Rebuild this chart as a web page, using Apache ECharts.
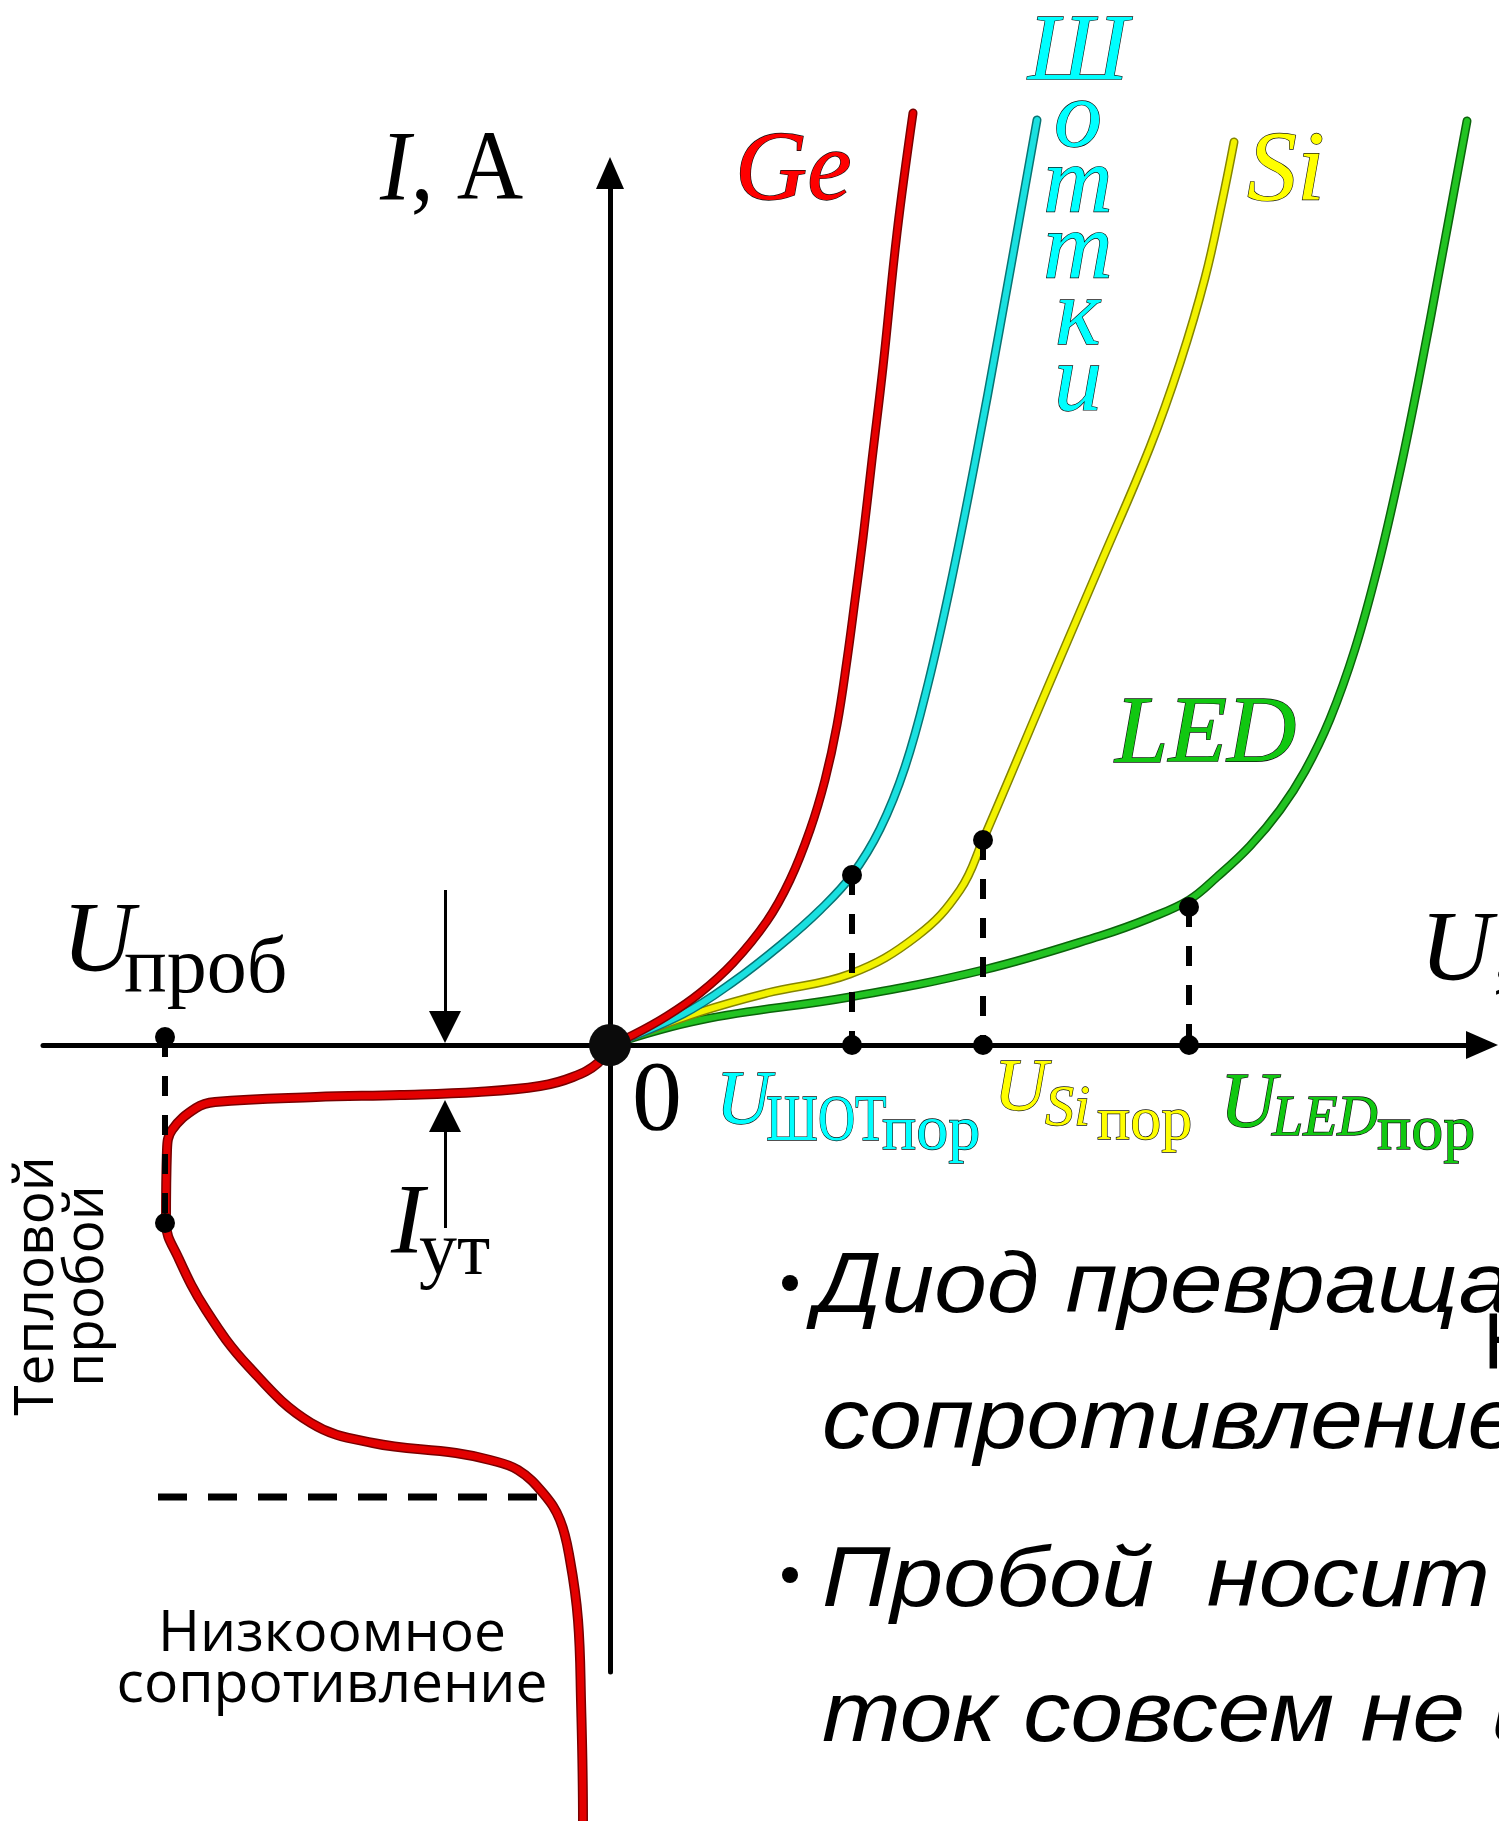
<!DOCTYPE html>
<html>
<head>
<meta charset="utf-8">
<script src="https://cdn.jsdelivr.net/npm/echarts@6/dist/echarts.min.js"></script>
<style>
  html, body { margin: 0; background: #fff; }
  #chart { width: 1499px; height: 1821px; }
</style>
</head>
<body>
<div id="chart"></div>
<script>
// ВАХ диодов, условные единицы (U вправо, I вверх)
const geForward = [[0, 0], [0.23, 0.10], [0.57, 0.29], [0.90, 0.52], [1.23, 0.82], [1.57, 1.24], [1.80, 1.65], [2.00, 2.15], [2.15, 2.65], [2.27, 3.20], [2.37, 3.85], [2.45, 4.45], [2.53, 5.07], [2.62, 5.85], [2.73, 6.78], [2.87, 8.12], [3.03, 9.32]]
const schottky = [[0, 0], [0.73, 0.31], [1.23, 0.63], [1.73, 1.02], [2.10, 1.35], [2.42, 1.70], [2.70, 2.16], [2.95, 2.78], [3.18, 3.61], [3.40, 4.58], [3.65, 5.83], [3.90, 7.18], [4.27, 9.25]]
const silicon = [[0, 0], [0.90, 0.33], [1.57, 0.52], [2.40, 0.71], [3.07, 1.09], [3.50, 1.55], [3.73, 2.05], [4.40, 3.63], [4.90, 4.80], [5.40, 5.98], [5.70, 6.82], [5.95, 7.67], [6.12, 8.43], [6.24, 9.03]]
const led = [[0, 0], [0.90, 0.25], [2.40, 0.48], [3.73, 0.75], [4.90, 1.09], [5.40, 1.27], [5.79, 1.45], [6.07, 1.68], [6.40, 1.99], [6.70, 2.35], [6.95, 2.74], [7.20, 3.26], [7.45, 3.96], [7.68, 4.79], [7.90, 5.74], [8.10, 6.72], [8.30, 7.78], [8.57, 9.24]]
const reverse = [[0, 0], [-0.12, -0.18], [-0.37, -0.32], [-0.70, -0.41], [-1.32, -0.47], [-2.10, -0.50], [-2.94, -0.52], [-3.95, -0.57], [-4.14, -0.63], [-4.38, -0.85], [-4.43, -1.05], [-4.44, -1.78], [-4.32, -2.12], [-4.04, -2.65], [-3.61, -3.22], [-2.99, -3.78], [-2.37, -3.98], [-1.54, -4.08], [-1.20, -4.15], [-0.92, -4.25], [-0.67, -4.48], [-0.50, -4.75], [-0.40, -5.15], [-0.32, -5.75], [-0.29, -6.55], [-0.27, -7.76], [-0.27, -7.90]]

// пороговые точки и пробой
const thresholdU = [2.42, 3.73, 5.79]
const thresholdI = [1.70, 2.05, 1.38]
const breakdownU = -4.45
const breakdownI = [0.08, -1.78]
const lowResLevel = -4.52
const lowResFrom = [-4.52, -0.71]
const leakX = -1.65

const chart = echarts.init(document.getElementById('chart'))

function tube (data, color, dark, w) {
  return [
    { type: 'line', data: data, smooth: 0.4, symbol: 'none', clip: false, silent: true,
      lineStyle: { color: dark, width: w + 3, cap: 'round', join: 'round' } },
    { type: 'line', data: data, smooth: 0.4, symbol: 'none', clip: false, silent: true,
      lineStyle: { color: color, width: w, cap: 'round', join: 'round' } }
  ]
}

const dashed = []
thresholdU.forEach(function (u, i) {
  dashed.push([[u, thresholdI[i]], [u, 0]])
})
dashed.push([[breakdownU, breakdownI[0]], [breakdownU, breakdownI[1]]])

const dots = [[breakdownU, breakdownI[0]], [breakdownU, breakdownI[1]]]
thresholdU.forEach(function (u, i) {
  dots.push([u, thresholdI[i]])
  dots.push([u, 0])
})

const serif = '"Liberation Serif", "DejaVu Serif", serif'
const sans = '"Open Sans", "Noto Sans", sans-serif'
const arial = '"Liberation Sans", Arial, sans-serif'

function label (x, y, text, size, opts) {
  opts = opts || {}
  return {
    type: 'text', x: x, y: y, z: 100, rotation: opts.rotation || 0, scaleX: opts.scaleX || 1,
    style: {
      text: text,
      fontFamily: opts.family || serif,
      fontSize: size,
      fontStyle: opts.italic ? 'italic' : 'normal',
      fill: opts.fill || '#000',
      stroke: opts.stroke || null,
      lineWidth: opts.stroke ? 1.3 : 0,
      align: opts.align || 'left',
      verticalAlign: opts.va || 'middle',
      lineHeight: opts.lineHeight,
      rich: opts.rich
    }
  }
}

const out = '#111'
const mathRich = {
  i: { fontFamily: serif, fontStyle: 'italic', fontSize: 100, fill: '#000' },
  r: { fontFamily: serif, fontSize: 100, fill: '#000' }
}
const bullet = { family: arial, italic: true, scaleX: 1.1 }

const option = {
  animation: false,
  backgroundColor: '#fff',
  grid: { left: 43, right: 17, top: 173, bottom: 149 },
  xAxis: {
    type: 'value', min: -5.67, max: 8.72,
    axisLine: { onZero: true, symbol: ['none', 'triangle'], symbolSize: [28, 32], lineStyle: { color: '#000', width: 5 } },
    axisTick: { show: false }, axisLabel: { show: false }, splitLine: { show: false }
  },
  yAxis: {
    type: 'value', min: -6.27, max: 8.72,
    axisLine: { onZero: true, symbol: ['none', 'triangle'], symbolSize: [28, 32], lineStyle: { color: '#000', width: 5 } },
    axisTick: { show: false }, axisLabel: { show: false }, splitLine: { show: false }
  },
  series: [].concat(
    tube(reverse, '#e30000', '#780000', 7),
    tube(led, '#22c322', '#0b640b', 6),
    tube(silicon, '#f2f200', '#858500', 6),
    tube(schottky, '#1ae0e0', '#087474', 6),
    tube(geForward, '#e60000', '#7a0000', 6),
    dashed.map(function (seg) {
      return { type: 'line', data: seg, symbol: 'none', clip: false, silent: true,
        lineStyle: { color: '#000', width: 6, type: [20, 19] } }
    }),
    [{ type: 'line', data: [[lowResFrom[0], lowResLevel], [lowResFrom[1], lowResLevel]], symbol: 'none', clip: false, silent: true,
      lineStyle: { color: '#000', width: 7, type: [29, 21] } },
    { type: 'lines', coordinateSystem: 'cartesian2d', silent: true, z: 5,
      symbol: ['none', 'triangle'], symbolSize: [28, 32],
      lineStyle: { color: '#000', width: 3, opacity: 1 },
      data: [
        { coords: [[leakX, 1.55], [leakX, 0.18]] },
        { coords: [[leakX, -1.83], [leakX, -0.71]] }
      ] },
    { type: 'scatter', data: dots, symbolSize: 20, z: 6, clip: false, silent: true,
      itemStyle: { color: '#000', opacity: 1 } },
    { type: 'scatter', data: [[0, 0]], symbolSize: 42, z: 7, clip: false, silent: true,
      itemStyle: { color: '#0b0b0b', opacity: 1 } }]
  ),
  graphic: [
    label(380, 173, '{i|I}{r|, A}', 100, { rich: mathRich, scaleX: 0.92 }),
    label(1420, 953, '{i|U}{r|, В}', 100, { rich: mathRich }),
    label(735, 173, 'Ge', 100, { italic: true, fill: '#ff0000', stroke: out }),
    label(1247, 173, 'Si', 100, { italic: true, fill: '#ffff00', stroke: out }),
    label(1115, 737, 'LED', 96, { italic: true, fill: '#11c811', stroke: out }),
    label(1078, 22, 'Ш\nо\nт\nт\nк\nи', 96, { italic: true, fill: '#00ffff', stroke: out, align: 'center', va: 'top', lineHeight: 66 }),
    label(62, 944, 'U', 100, { italic: true }),
    label(124, 971, 'проб', 80),
    label(632, 1103, '0', 100),
    label(391, 1226, 'I', 100, { italic: true }),
    label(419, 1254, 'ут', 76),
    label(716, 1103, 'U', 76, { italic: true, fill: '#00ffff', stroke: out }),
    label(766, 1123, 'ШОТ', 66, { fill: '#00ffff', stroke: out, scaleX: 0.78 }),
    label(882, 1132, 'пор', 64, { fill: '#00ffff', stroke: out }),
    label(994, 1091, 'U', 74, { italic: true, fill: '#ffff00', stroke: out }),
    label(1045, 1110, 'Si', 58, { italic: true, fill: '#ffff00', stroke: out }),
    label(1097, 1123, 'пор', 62, { fill: '#ffff00', stroke: out }),
    label(1220, 1105, 'U', 78, { italic: true, fill: '#11c811', stroke: out }),
    label(1272, 1120, 'LED', 56, { italic: true, fill: '#11c811', stroke: out }),
    label(1377, 1132, 'пор', 64, { fill: '#11c811', stroke: out }),
    label(62, 1286, 'Тепловой\nпробой', 55, { family: sans, align: 'center', lineHeight: 50, rotation: Math.PI / 2 }),
    label(332, 1660, 'Низкоомное\nсопротивление', 57, { family: sans, align: 'center', lineHeight: 51 }),
    { type: 'circle', shape: { cx: 790, cy: 1283, r: 8 }, style: { fill: '#000' } },
    { type: 'circle', shape: { cx: 790, cy: 1575, r: 8 }, style: { fill: '#000' } },
    label(815, 1288, 'Диод превращается', 86, bullet),
    label(1483, 1346, 'Н', 80, { family: arial }),
    label(822, 1424, 'сопротивлением', 86, bullet),
    label(822, 1582, 'Пробой  носит', 86, bullet),
    label(822, 1717, 'ток совсем не изменяется', 86, bullet)
  ]
}

chart.setOption(option)
</script>
</body>
</html>
